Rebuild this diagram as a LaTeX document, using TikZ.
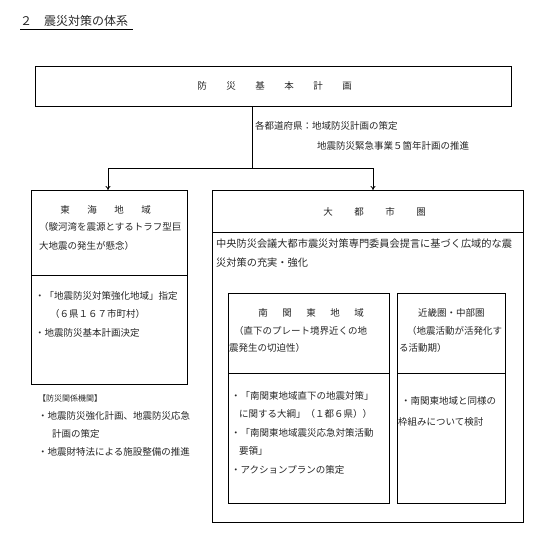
\documentclass[tikz,border=0pt]{standalone}
\usepackage{fontspec}
\setmainfont{Noto Sans CJK JP}
\usetikzlibrary{arrows.meta}
\begin{document}
\begin{tikzpicture}[x=1pt,y=-1pt,
  box/.style={draw=black,line width=0.9pt},
  txt/.style={inner sep=0pt,anchor=west,font=\fontsize{9.5}{11}\selectfont,text=black!85},
  conn/.style={draw=black,line width=0.8pt},
  arr/.style={-{To[length=4pt,width=5pt]}}]
\useasboundingbox (0,0) rectangle (538,543);
% title
\node[txt,anchor=west,font=\fontsize{12}{14}\selectfont] (title) at (20,21) {２　震災対策の体系};
\draw[line width=0.8pt] (title.south west)++(0,3) -- ++(113,0);
% top box
\draw[box] (35,66) rectangle (511,106);
\node[inner sep=0pt] (top) at (273,86) {};
\foreach \c [count=\i from 0] in {防,災,基,本,計,画}
  \node[txt,anchor=center] at (202+\i*29,86) {\c};
\coordinate (tb) at (252,106);
\coordinate (j) at (252,168);
\coordinate (jl) at (108,168);
\coordinate (jr) at (373,168);
\coordinate (al) at (108,190);
\coordinate (ar) at (373,190);
\draw[conn] (tb) -- (j);
\draw[conn] (jl) -- (jr);
\draw[conn,arr] (jl) -- (al);
\draw[conn,arr] (jr) -- (ar);
\node[txt] (l1) at (255,126) {各都道府県：地域防災計画の策定};
\node[txt] (l2) at (317,146) {地震防災緊急事業５箇年計画の推進};
% left box
\draw[box] (31,190) rectangle (187,384);
\draw[box] (31,275) -- (187,275);
\foreach \c [count=\i from 0] in {東,海,地,域}
  \node[txt,anchor=center] at (65+\i*27,210) {\c};
\node[txt] at (39,227) {（駿河湾を震源とするトラフ型巨};
\node[txt] at (39,246) {大地震の発生が懸念）};
\node[txt] at (35,296) {・「地震防災対策強化地域」指定};
\node[txt] at (50,314) {（６県１６７市町村）};
\node[txt] at (35,333) {・地震防災基本計画決定};
% outside
\node[txt,font=\fontsize{8}{10}\selectfont] at (38,398) {【防災関係機関】};
\node[txt] at (38,416) {・地震防災強化計画、地震防災応急};
\node[txt] at (52,434) {計画の策定};
\node[txt] at (38,452) {・地震財特法による施設整備の推進};
% big box
\draw[box] (212,190) rectangle (523,522);
\draw[box] (212,232) -- (523,232);
\foreach \c [count=\i from 0] in {大,都,市,圏}
  \node[txt,anchor=center] at (328+\i*31,212) {\c};
\node[txt,font=\fontsize{10.2}{12}\selectfont] at (216,244) {中央防災会議大都市震災対策専門委員会提言に基づく広域的な震};
\node[txt,font=\fontsize{10.2}{12}\selectfont] at (216,263) {災対策の充実・強化};
% inner left
\draw[box] (228,293) rectangle (389,503);
\draw[box] (228,373) -- (389,373);
\foreach \c [count=\i from 0] in {南,関,東,地,域}
  \node[txt,anchor=center] at (263+\i*24,313) {\c};
\node[txt] at (234,331) {（直下のプレート境界近くの地};
\node[txt] at (229,348) {震発生の切迫性）};
\node[txt] at (231,396) {・「南関東地域直下の地震対策」};
\node[txt] at (239,414) {に関する大綱」（１都６県））};
\node[txt] at (231,433) {・「南関東地域震災応急対策活動};
\node[txt] at (239,451) {要領」};
\node[txt] at (231,470) {・アクションプランの策定};
% inner right
\draw[box] (397,293) rectangle (505,503);
\draw[box] (397,373) -- (505,373);
\node[txt] at (418,313) {近畿圏・中部圏};
\node[txt] at (407,331) {（地震活動が活発化す};
\node[txt] at (399,348) {る活動期）};
\node[txt] at (401,401) {・南関東地域と同様の};
\node[txt] at (398,422) {枠組みについて検討};
\end{tikzpicture}
\end{document}
